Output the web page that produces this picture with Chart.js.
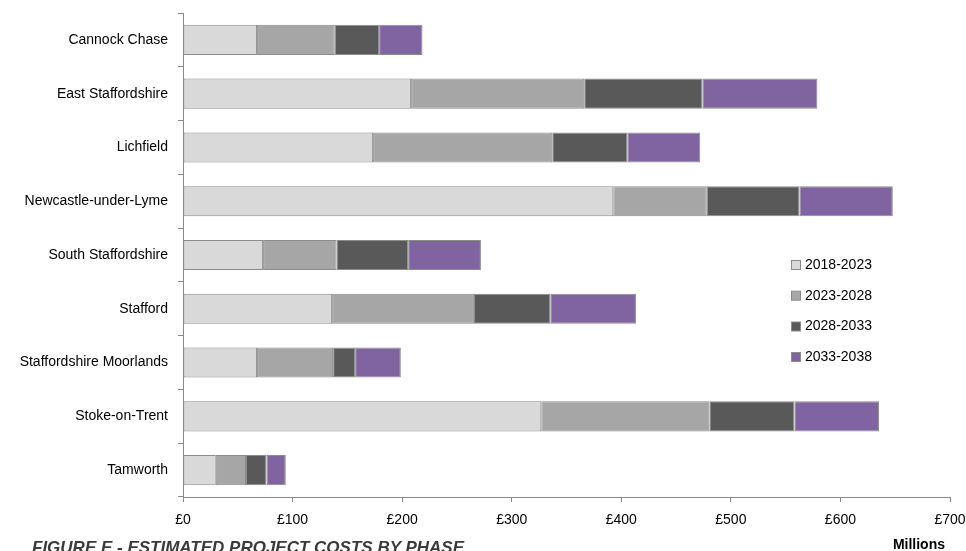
<!DOCTYPE html>
<html>
<head>
<meta charset="utf-8">
<script src="https://cdn.jsdelivr.net/npm/chart.js@4.4.1/dist/chart.umd.min.js"></script>
<style>
  html, body { margin: 0; padding: 0; background: #ffffff; overflow: hidden; }
  #wrap { position: relative; width: 966px; height: 551px; overflow: hidden; }
  #c { position: absolute; left: 0; top: 0; }
  #caption { position: absolute; left: 32px; top: 539px; font: italic bold 17px "Liberation Sans", Arial, sans-serif; line-height: 17px; color: #3a3a3a; white-space: nowrap; }
  #units { position: absolute; right: 21px; top: 536px; font: bold 14px "Liberation Sans", Arial, sans-serif; line-height: 16px; color: #000; white-space: nowrap; }
</style>
</head>
<body>
<div id="wrap">
  <canvas id="c" width="966" height="551"></canvas>
  <div id="caption">FIGURE E - ESTIMATED PROJECT COSTS BY PHASE</div>
  <div id="units">Millions</div>
</div>
<script>
const categories = ["Cannock Chase", "East Staffordshire", "Lichfield", "Newcastle-under-Lyme", "South Staffordshire", "Stafford", "Staffordshire Moorlands", "Stoke-on-Trent", "Tamworth"];
const phaseLabels = ["2018-2023", "2023-2028", "2028-2033", "2033-2038"];
const phase2018 = [67.6, 208.2, 173.5, 392.7, 73.1, 136.1, 67.6, 327.0, 29.9];
const phase2023 = [70.9, 158.0, 163.5, 85.3, 67.0, 129.4, 69.4, 153.4, 27.6];
const phase2028 = [40.5, 107.8, 68.5, 84.6, 65.4, 69.7, 20.1, 77.6, 18.7];
const phase2033 = [39.6, 105.0, 66.6, 85.2, 66.4, 78.2, 41.7, 77.3, 17.6];
const xTicks = [0, 100, 200, 300, 400, 500, 600, 700];
const colors = ["#d9d9d9", "#a6a6a6", "#595959", "#8064a2"];

const FONT = "'Liberation Sans', Arial, sans-serif";
const axisColor = "#898989";

const seriesValues = [phase2018, phase2023, phase2028, phase2033];
const datasets = seriesValues.map((vals, i) => ({
  label: phaseLabels[i],
  data: vals,
  backgroundColor: colors[i],
  borderColor: "#8c8c8c",
  borderWidth: 1,
  borderSkipped: false,
  barPercentage: 0.56,
  categoryPercentage: 1.0
}));

const legendPlugin = {
  id: "sideLegend",
  afterDraw(chart) {
    const ctx = chart.ctx;
    ctx.save();
    const ys = [265, 295.7, 326.5, 357];
    chart.data.datasets.forEach((ds, i) => {
      const y = ys[i];
      ctx.fillStyle = ds.backgroundColor;
      ctx.fillRect(791.5, y - 4.5, 9, 9);
      ctx.strokeStyle = "#8c8c8c";
      ctx.lineWidth = 1;
      ctx.strokeRect(791.5, y - 4.5, 9, 9);
      ctx.fillStyle = "#000000";
      ctx.font = "14px " + FONT;
      ctx.textBaseline = "middle";
      ctx.textAlign = "left";
      ctx.fillText(ds.label, 805, y);
    });
    ctx.restore();
  }
};

new Chart(document.getElementById("c"), {
  type: "bar",
  data: { labels: categories, datasets: datasets },
  options: {
    indexAxis: "y",
    responsive: false,
    animation: false,
    layout: { padding: { top: 13, right: 16, left: 0, bottom: 0 } },
    plugins: { legend: { display: false }, tooltip: { enabled: false }, title: { display: false } },
    scales: {
      x: {
        stacked: true,
        min: 0,
        max: 700,
        afterFit: s => { s.height = 54; s.paddingLeft = 0; s.paddingRight = 0; },
        afterBuildTicks: s => { s.ticks = xTicks.map(v => ({ value: v })); },
        ticks: {
          color: "#000000",
          font: { family: FONT, size: 14 },
          padding: 10,
          maxRotation: 0,
          callback: v => "£" + v
        },
        grid: { display: true, drawOnChartArea: false, color: axisColor, tickLength: 5 },
        border: { display: true, color: axisColor, width: 1 }
      },
      y: {
        stacked: true,
        afterFit: s => { s.width = 183; s.paddingTop = 0; s.paddingBottom = 0; },
        ticks: {
          color: "#000000",
          font: { family: FONT, size: 14 },
          padding: 10
        },
        grid: { display: true, drawOnChartArea: false, color: axisColor, tickLength: 5, offset: true },
        border: { display: true, color: axisColor, width: 1 }
      }
    }
  },
  plugins: [legendPlugin]
});
</script>
</body>
</html>
